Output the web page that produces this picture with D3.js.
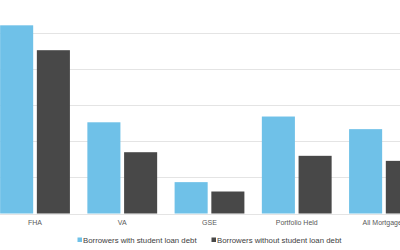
<meta charset="utf-8">

<!-- Load d3.js -->
<script src="https://d3js.org/d3.v7.min.js"></script>

<style>
  body { margin: 0; background: #fff; }
  text { font-family: "Liberation Sans", Arial, sans-serif; }
</style>

<div id="barChart"></div>
<script>

// data (units = gridline steps)
var categories = ["FHA", "VA", "GSE", "Portfolio Held", "All Mortgages"];
var seriesNames = ["Borrowers with student loan debt", "Borrowers without student loan debt"];
var withDebt = [5.22, 2.53, 0.87, 2.69, 2.34];
var withoutDebt = [4.53, 1.70, 0.61, 1.60, 1.46];
var yTicks = [0, 1, 2, 3, 4, 5, 6];

var colors = ["#6fc1e8", "#484848"];

var width = 400,
    height = 250;

var svg = d3.select("#barChart")
  .append("svg")
    .attr("width", width)
    .attr("height", height);

// the chart is cropped on the left and on the right
var x0 = d3.scaleBand()
  .domain(categories)
  .range([-8.6, 427.6])
  .paddingInner(0.2)
  .paddingOuter(0.1);

var x1 = d3.scaleBand()
  .domain(seriesNames)
  .range([0, x0.bandwidth()])
  .paddingInner(0.1);

var y = d3.scaleLinear()
  .domain([0, 6])
  .range([213.5, -2.8]);

// gridlines
svg.append("g")
  .selectAll("line")
  .data(yTicks)
  .enter()
  .append("line")
    .attr("x1", 0)
    .attr("x2", width)
    .attr("y1", function(d) { return Math.round(y(d)) + 0.5; })
    .attr("y2", function(d) { return Math.round(y(d)) + 0.5; })
    .style("stroke", "#e4e4e4")
    .style("stroke-width", 1);

var rows = categories.map(function(c, i) {
  return { cat: c, values: [withDebt[i], withoutDebt[i]] };
});

// bars
svg.append("g")
  .selectAll("g")
  .data(rows)
  .enter()
  .append("g")
    .attr("transform", function(d) { return "translate(" + x0(d.cat) + ",0)"; })
  .selectAll("rect")
  .data(function(d) { return d.values.map(function(v, j) { return { s: seriesNames[j], v: v, j: j }; }); })
  .enter()
  .append("rect")
    .attr("x", function(d) { return x1(d.s); })
    .attr("width", x1.bandwidth())
    .attr("y", function(d) { return y(d.v); })
    .attr("height", function(d) { return y(0) - y(d.v); })
    .style("fill", function(d) { return colors[d.j]; });

// category labels
var xAxis = svg.append("g")
  .attr("transform", "translate(0," + y(0) + ")")
  .call(d3.axisBottom(x0).tickSize(0).tickPadding(7));
xAxis.select(".domain").remove();
xAxis.selectAll("text")
  .style("font-size", "7px")
  .style("fill", "#595959")
  .style("font-family", "Liberation Sans, Arial, sans-serif");

// legend
var legend = svg.append("g")
  .attr("transform", "translate(0,240)");

var item1 = legend.append("g").attr("transform", "translate(77.5,0)");
var item2 = legend.append("g").attr("transform", "translate(211.5,0)");

[item1, item2].forEach(function(g, i) {
  g.append("rect")
    .attr("x", 0)
    .attr("y", -2.5)
    .attr("width", 4.5)
    .attr("height", 4.5)
    .style("fill", colors[i]);
  g.append("text")
    .attr("x", 5.5)
    .attr("y", 0)
    .attr("dy", "0.35em")
    .style("font-size", "7.8px")
    .style("fill", "#404040")
    .text(seriesNames[i]);
});

</script>
